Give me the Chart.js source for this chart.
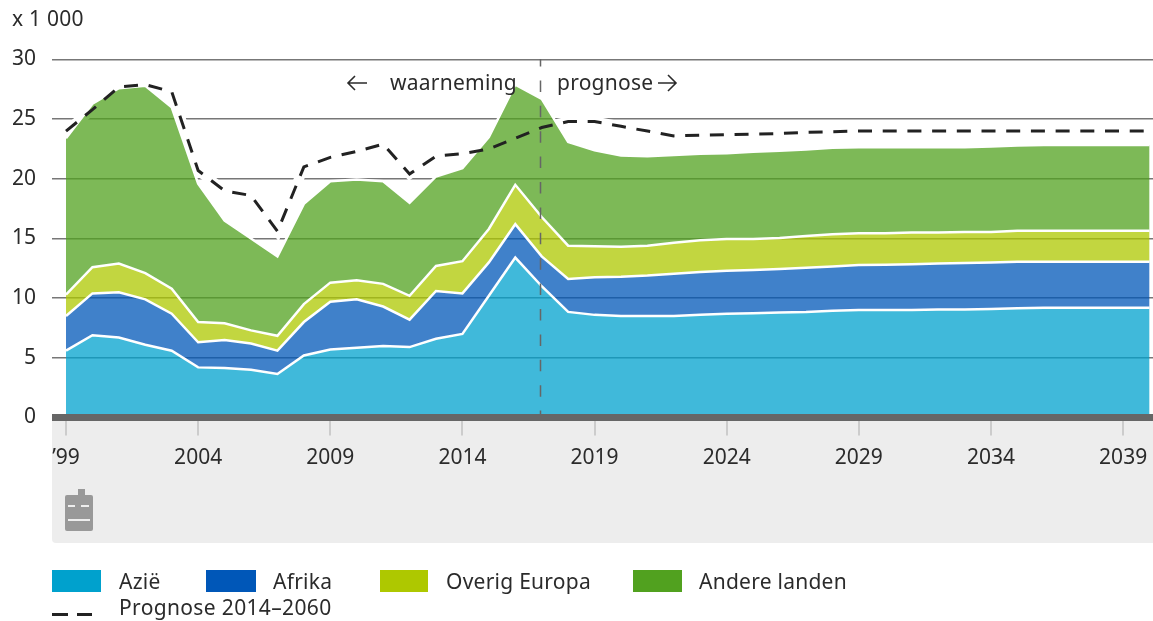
<!DOCTYPE html>
<html lang="nl"><head><meta charset="utf-8">
<style>html,body{margin:0;padding:0;background:#fff}canvas{display:block}</style>
<script src="https://cdn.jsdelivr.net/npm/chart.js@4"></script></head>
<body><canvas id="c" width="1153" height="621"></canvas>
<script>
const years=[1999,2000,2001,2002,2003,2004,2005,2006,2007,2008,2009,2010,2011,2012,2013,2014,2015,2016,2017,2018,2019,2020,2021,2022,2023,2024,2025,2026,2027,2028,2029,2030,2031,2032,2033,2034,2035,2036,2037,2038,2039,2040];
const azie=[5.6,6.9,6.7,6.1,5.6,4.2,4.15,4.0,3.65,5.2,5.7,5.85,6.0,5.9,6.6,7.0,10.2,13.4,11.0,8.85,8.6,8.5,8.5,8.5,8.6,8.7,8.73,8.8,8.85,8.95,9.0,9.0,9.0,9.05,9.05,9.1,9.15,9.2,9.2,9.2,9.2,9.2];
const afrika=[2.9,3.5,3.8,3.8,3.1,2.1,2.35,2.2,1.95,2.8,4.0,4.05,3.3,2.3,4.0,3.4,2.8,2.8,2.5,2.75,3.15,3.3,3.4,3.55,3.6,3.6,3.63,3.65,3.7,3.7,3.78,3.8,3.85,3.85,3.9,3.88,3.9,3.86,3.86,3.86,3.86,3.86];
const overigEuropa=[1.8,2.2,2.4,2.2,2.1,1.7,1.4,1.1,1.25,1.5,1.6,1.6,1.9,2.0,2.1,2.7,2.8,3.3,3.3,2.8,2.6,2.5,2.5,2.6,2.65,2.65,2.6,2.6,2.65,2.7,2.67,2.65,2.65,2.6,2.6,2.57,2.6,2.59,2.59,2.59,2.59,2.59];
const andereLanden=[13.1,13.7,14.7,15.7,15.2,11.6,8.6,7.7,6.65,8.4,8.5,8.45,8.6,7.8,7.5,7.8,7.7,8.4,9.9,8.7,8.05,7.65,7.5,7.35,7.25,7.2,7.31,7.3,7.25,7.25,7.2,7.2,7.15,7.15,7.1,7.15,7.15,7.18,7.18,7.18,7.18,7.18];
const prognose=[24,25.8,27.7,27.9,27.3,20.7,19,18.6,15.6,21,21.8,22.3,22.9,20.4,21.9,22.1,22.5,23.4,24.3,24.8,24.8,24.4,24,23.6,23.65,23.7,23.75,23.8,23.9,23.95,24,24,24,24,24,24,24,24,24,24,24,24];
const tickYears=[1999,2004,2009,2014,2019,2024,2029,2034,2039];
const yTicks=[0,5,10,15,20,25,30];
const FONT='"Noto Sans"', INK='#2b2b2b';
const fillOf=(r,g,b)=>`rgba(${r},${g},${b},0.75)`;
const area=(label,data,fill,solid)=>({label,data,fill,backgroundColor:solid,borderColor:'#fff',borderWidth:2.5,pointRadius:0,tension:0,stack:'m',solid});
const legendBoxes=[{x:52,w:49,tx:119,c:'#00A1CD'},{x:206,w:50,tx:273,c:'#0057B8'},{x:380,w:48,tx:446,c:'#AEC800'},{x:633,w:49,tx:699,c:'#51A11F'}];

const decor={id:'decor',
 beforeDraw(ch){const {ctx,chartArea:a}=ch;ctx.save();
  ctx.fillStyle='#EDEDED';ctx.beginPath();ctx.roundRect(a.left,a.bottom,a.right-a.left,543-a.bottom,[0,0,0,4]);ctx.fill();
  ctx.fillStyle='#999';ctx.beginPath();ctx.roundRect(65,495,28,36,2);ctx.fill();ctx.fillRect(78,489,7,7);
  ctx.fillStyle='#eee';ctx.fillRect(68,505,7,2);ctx.fillRect(81,505,8,2);ctx.fillRect(68,519,22,2);
  ctx.restore();},
 afterDraw(ch){const {ctx,chartArea:a,scales:{x}}=ch;ctx.save();
  ctx.fillStyle='#fff';ctx.fillRect(a.left-5,a.bottom-4,5,8);
  const vx=Math.round(x.getPixelForValue(2017))-1.5;
  ctx.strokeStyle='#666';ctx.lineWidth=1.5;ctx.setLineDash([11.5,13.9]);ctx.lineDashOffset=4;
  ctx.beginPath();ctx.moveTo(vx,59);ctx.lineTo(vx,414);ctx.stroke();ctx.setLineDash([]);
  ctx.fillStyle=INK;ctx.textBaseline='middle';ctx.textAlign='left';ctx.font='21px '+FONT;ctx.letterSpacing='0.25px';
  ctx.fillText('x 1 000',12,20);
  ctx.fillText('waarneming',390,84);ctx.fillText('prognose',557,84);
  ctx.strokeStyle=INK;ctx.lineWidth=1.6;ctx.beginPath();
  ctx.moveTo(367,83);ctx.lineTo(348,83);ctx.moveTo(355,76);ctx.lineTo(348,83);ctx.lineTo(355,90);
  ctx.moveTo(658,83);ctx.lineTo(676,83);ctx.moveTo(668,75);ctx.lineTo(676,83);ctx.lineTo(668,91);ctx.stroke();
  const areas=ch.data.datasets.filter(d=>d.solid);
  areas.forEach((d,i)=>{const b=legendBoxes[i];ctx.fillStyle=b.c;ctx.fillRect(b.x,570,b.w,22);ctx.fillStyle=INK;ctx.fillText(d.label,b.tx,583);});
  ctx.fillStyle=INK;ctx.letterSpacing='0.35px';ctx.fillText(ch.data.datasets[0].label,119,609);
  ctx.fillStyle='#222';ctx.fillRect(52,613,16,3);ctx.fillRect(77,613,15,3);
  ctx.restore();}
};

new Chart(document.getElementById('c'),{type:'line',plugins:[decor],
 data:{labels:years,datasets:[
  {label:'Prognose 2014–2060',data:prognose,fill:false,borderColor:'#222',borderWidth:3,borderDash:[14,10.7],pointRadius:0,stack:'p'},
  area('Azië',azie,'origin',fillOf(0,161,205)),
  area('Afrika',afrika,'-1',fillOf(0,87,184)),
  area('Overig Europa',overigEuropa,'-1',fillOf(174,200,0)),
  area('Andere landen',andereLanden,'-1',fillOf(81,161,31)),
  {label:'halo',data:prognose,fill:false,borderColor:'#fff',borderWidth:10,pointRadius:0,stack:'h'}
 ]},
 options:{responsive:false,animation:false,devicePixelRatio:1,
  layout:{padding:{top:59.5,right:0,left:0,bottom:0}},
  plugins:{legend:{display:false},tooltip:{enabled:false}},
  scales:{
   x:{type:'linear',min:1998.47,max:2040.13,
    afterBuildTicks(s){s.ticks=tickYears.map(v=>({value:v}));},
    afterFit(s){s.height=203.5;s.paddingLeft=0;s.paddingRight=0;},
    grid:{drawOnChartArea:false,drawTicks:true,tickLength:18,color:'#ccc',lineWidth:2},
    border:{display:true,color:'#666',width:7,z:1},
    ticks:{autoSkip:false,maxRotation:0,padding:10,color:INK,font:{family:FONT,size:21},
     callback:v=>v===1999?"’99":String(v)}},
   y:{stacked:true,min:0,max:30,
    afterBuildTicks(s){s.ticks=yTicks.map(v=>({value:v}));},
    afterFit(s){s.width=52;},
    grid:{drawTicks:false,color:'#777',lineWidth:1.5},
    border:{display:false},
    ticks:{padding:16,color:INK,font:{family:FONT,size:21}}}
  }}});
</script></body></html>
